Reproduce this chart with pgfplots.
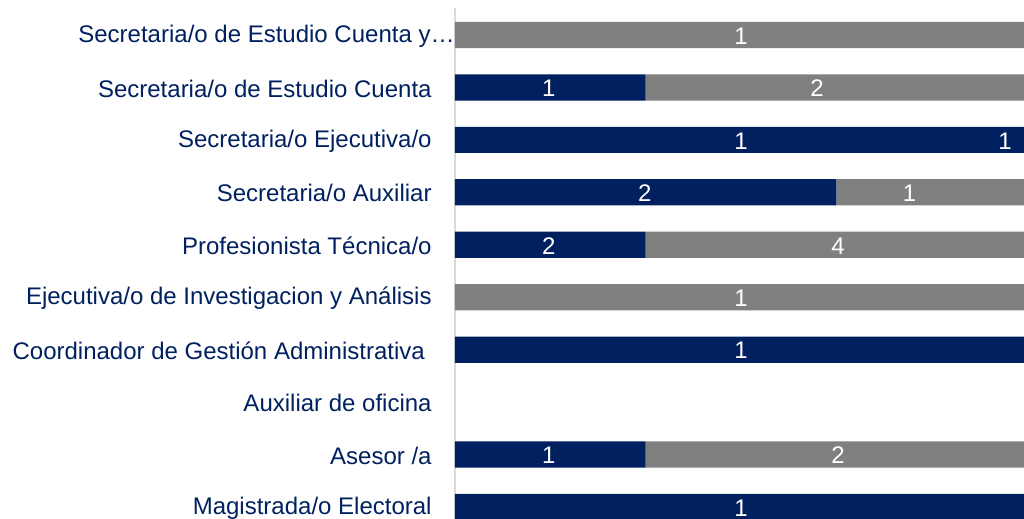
\documentclass[border=0pt]{standalone}
\usepackage{pgfplots}
\pgfplotsset{compat=1.18}
\usepackage{fontspec}
\setmainfont{Liberation Sans}
\definecolor{navy}{HTML}{002060}
\definecolor{midgray}{HTML}{808080}
\definecolor{axgray}{HTML}{D9D9D9}
\begin{document}
\begin{tikzpicture}
\pgfplotsset{
  common/.style={
    scale only axis,
    width=284.5pt, height=259.5pt,
    xmin=0, xmax=99.5,
    ymin=-0.229, ymax=9.667,
    at={(0,0)}, anchor=south west,
  }
}
\begin{axis}[common,
  xbar stacked,
  bar width=0.5,
  axis x line=none,
  axis y line*=left,
  y axis line style={draw=axgray, line width=1pt, shorten >=4pt},
  major tick length=0pt,
  ytick={0,...,9},
  yticklabels={Magistrada/o Electoral, Asesor /a, Auxiliar de oficina, {Coordinador de Gestión Administrativa\kern3.4pt}, Ejecutiva/o de Investigacion y Análisis, Profesionista Técnica/o, Secretaria/o Auxiliar, Secretaria/o Ejecutiva/o, Secretaria/o de Estudio Cuenta, {Secretaria/o de Estudio Cuenta y…\kern-11.5pt}},
  yticklabel style={font=\fontsize{12}{14}\selectfont, text=navy, inner sep=0pt, xshift=-11.5pt, yshift=-0.5pt},
]
\addplot[fill=navy, draw=none] coordinates {
(100,0) (33.33,1) (0,2) (100,3) (0,4) (33.33,5) (66.67,6) (100,7) (33.33,8) (0,9)};
\addplot[fill=midgray, draw=none] coordinates {
(0,0) (66.67,1) (0,2) (0,3) (100,4) (66.67,5) (33.33,6) (0,7) (66.67,8) (100,9)};
\end{axis}
\begin{axis}[common, hide axis]
\addplot[draw=none, mark=none, nodes near coords, point meta=explicit symbolic,
  every node near coord/.append style={anchor=center, text=white, font=\fontsize{12}{14}\selectfont, inner sep=0pt, yshift=-0.5pt}]
coordinates {
(50,0) [1]
(16.4,1) [1] (67,1) [2]
(50,3) [1]
(50,4) [1]
(16.4,5) [2] (67,5) [4]
(33.2,6) [2] (79.5,6) [1]
(50,7) [1] (96.2,7) [1]
(16.4,8) [1] (63.3,8) [2]
(50,9) [1]
};
\end{axis}
\pgfresetboundingbox
\path ([xshift=-227.5pt]current axis.south west) rectangle (current axis.north east);
\end{tikzpicture}
\end{document}
